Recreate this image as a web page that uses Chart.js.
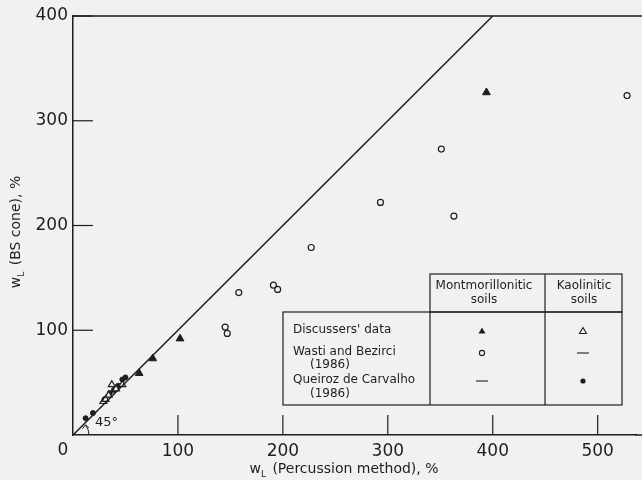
<!DOCTYPE html>
<html>
<head>
<meta charset="utf-8">
<script src="https://cdn.jsdelivr.net/npm/chart.js@4.4.1/dist/chart.umd.min.js"></script>
<style>
  html, body { margin: 0; padding: 0; background: #f1f1ef; }
  #wrap { width: 642px; height: 480px; }
</style>
</head>
<body>
<div id="wrap"><canvas id="chart" width="642" height="480"></canvas></div>
<script>
// w_L percussion (x) vs w_L BS cone (y), %
const montDiscX = [63, 76, 102, 394];
const montDiscY = [59, 73, 92, 327];
const wastiX = [145, 147, 158, 191, 195, 227, 293, 351, 363, 528];
const wastiY = [103, 97, 136, 143, 139, 179, 222, 273, 209, 324];
const kaolDiscX = [29, 31, 34, 37, 41, 47];
const kaolDiscY = [32, 34, 38, 48, 44, 48];
const queirozX = [12, 19, 30, 35, 39, 43, 47, 50];
const queirozY = [16, 21, 34, 40, 43, 47, 53, 55];
const lineX = [0, 400];
const lineY = [0, 400];
const xTicks = [100, 200, 300, 400, 500];
const yTicks = [100, 200, 300, 400];

const ink = '#1e1e1e';
const pts = (xs, ys) => xs.map((x, i) => ({ x, y: ys[i] }));

const font = 'DejaVu Sans';

function drawMarker(ctx, kind, x, y) {
  ctx.save();
  ctx.strokeStyle = ink;
  ctx.fillStyle = ink;
  ctx.lineWidth = 1.1;
  if (kind === 'filledTri' || kind === 'openTri') {
    const r = 3.5;
    ctx.beginPath();
    ctx.moveTo(x, y - r);
    ctx.lineTo(x + r, y + r * 0.7);
    ctx.lineTo(x - r, y + r * 0.7);
    ctx.closePath();
    kind === 'filledTri' ? ctx.fill() : ctx.stroke();
  } else if (kind === 'openCircle') {
    ctx.beginPath();
    ctx.arc(x, y, 2.6, 0, Math.PI * 2);
    ctx.stroke();
  } else if (kind === 'dot') {
    ctx.beginPath();
    ctx.arc(x, y, 2.6, 0, Math.PI * 2);
    ctx.fill();
  } else if (kind === 'dash') {
    ctx.beginPath();
    ctx.moveTo(x - 6, y);
    ctx.lineTo(x + 6, y);
    ctx.stroke();
  }
  ctx.restore();
}

const decor = {
  id: 'decor',
  afterDraw(chart) {
    const { ctx, chartArea: a, scales: { x, y } } = chart;
    ctx.save();
    ctx.strokeStyle = ink;
    ctx.fillStyle = ink;
    ctx.lineWidth = 1.5;
    // top frame, bottom axis run out to the page edge
    ctx.beginPath();
    ctx.moveTo(a.left, a.top);
    ctx.lineTo(642, a.top);
    ctx.moveTo(a.right - 1, a.bottom);
    ctx.lineTo(642, a.bottom);
    ctx.stroke();
    // inward ticks
    ctx.lineWidth = 1.2;
    xTicks.forEach(v => {
      const px = x.getPixelForValue(v);
      ctx.beginPath(); ctx.moveTo(px, a.bottom); ctx.lineTo(px, a.bottom - 20); ctx.stroke();
    });
    yTicks.forEach(v => {
      const py = y.getPixelForValue(v);
      ctx.beginPath(); ctx.moveTo(a.left, py); ctx.lineTo(a.left + 20, py); ctx.stroke();
    });
    // origin label
    ctx.font = '17px ' + font;
    ctx.textAlign = 'center';
    ctx.textBaseline = 'middle';
    ctx.fillText('0', a.left - 10, a.bottom + 16);

    // axis titles with subscript
    const title = (main, rest, cx, cy, rot) => {
      ctx.save();
      ctx.translate(cx, cy);
      ctx.rotate(rot);
      ctx.textBaseline = 'alphabetic';
      ctx.textAlign = 'left';
      ctx.font = '14px ' + font;
      const wW = ctx.measureText(main).width;
      ctx.font = '9px ' + font;
      const lW = ctx.measureText('L').width;
      ctx.font = '14px ' + font;
      const rW = ctx.measureText(rest).width;
      const total = wW + lW + rW + 2;
      let sx = -total / 2;
      ctx.fillText(main, sx, 5);
      ctx.font = '9px ' + font;
      ctx.fillText('L', sx + wW, 9);
      ctx.font = '14px ' + font;
      ctx.fillText(rest, sx + wW + lW + 2, 5);
      ctx.restore();
    };
    title('w', ' (Percussion method), %', 344, 468, 0);
    title('w', ' (BS cone), %', 15, 232, -Math.PI / 2);

    // 45 degree arc with arrow
    const ox = x.getPixelForValue(0), oy = y.getPixelForValue(0);
    const r = 16, end = -Math.PI / 4 + 0.1;
    ctx.lineWidth = 1;
    ctx.beginPath();
    ctx.arc(ox, oy, r, end, 0, false);
    ctx.stroke();
    const ax = ox + r * Math.cos(end);
    const ay = oy + r * Math.sin(end);
    ctx.beginPath();
    ctx.moveTo(ax - 3, ay + 4);
    ctx.lineTo(ax, ay);
    ctx.lineTo(ax + 3.5, ay + 3);
    ctx.stroke();
    ctx.font = '13px ' + font;
    ctx.textAlign = 'left';
    ctx.textBaseline = 'middle';
    ctx.fillText('45°', 95, 423);

    // legend table
    ctx.lineWidth = 1.2;
    ctx.strokeRect(430, 274, 192, 38);
    ctx.strokeRect(283, 312, 339, 93);
    ctx.beginPath();
    ctx.moveTo(545, 274); ctx.lineTo(545, 405);
    ctx.moveTo(430, 312); ctx.lineTo(430, 405);
    ctx.stroke();
    ctx.font = '12px ' + font;
    ctx.textAlign = 'center';
    ctx.textBaseline = 'middle';
    ctx.fillText('Montmorillonitic', 484, 286);
    ctx.fillText('soils', 484, 300);
    ctx.fillText('Kaolinitic', 584, 286);
    ctx.fillText('soils', 584, 300);
    ctx.textAlign = 'left';
    ctx.fillText("Discussers' data", 293, 330);
    ctx.fillText('Wasti and Bezirci', 293, 352);
    ctx.fillText('(1986)', 310, 365);
    ctx.fillText('Queiroz de Carvalho', 293, 380);
    ctx.fillText('(1986)', 310, 394);
    drawMarker(ctx, 'filledTri', 482, 331);
    drawMarker(ctx, 'openTri', 583, 331);
    drawMarker(ctx, 'openCircle', 482, 353);
    drawMarker(ctx, 'dash', 583, 353);
    drawMarker(ctx, 'dash', 482, 381);
    drawMarker(ctx, 'dot', 583, 381);
    ctx.restore();
  }
};

const triStyle = { pointStyle: 'triangle', pointRadius: 4.5, backgroundColor: ink, borderColor: ink, borderWidth: 1 };

new Chart(document.getElementById('chart'), {
  type: 'scatter',
  data: {
    datasets: [
      { label: 'Equality', type: 'line', data: pts(lineX, lineY), borderColor: ink, borderWidth: 1.5, pointRadius: 0, fill: false },
      { label: "Discussers' data (montmorillonitic)", data: pts(montDiscX, montDiscY), ...triStyle },
      { label: 'Wasti and Bezirci (1986)', data: pts(wastiX, wastiY), pointStyle: 'circle', pointRadius: 3, backgroundColor: 'rgba(0,0,0,0)', borderColor: ink, borderWidth: 1.2 },
      { label: "Discussers' data (kaolinitic)", data: pts(kaolDiscX, kaolDiscY), pointStyle: 'triangle', pointRadius: 4, backgroundColor: '#f1f1ef', borderColor: ink, borderWidth: 1.2 },
      { label: 'Queiroz de Carvalho (1986)', data: pts(queirozX, queirozY), pointStyle: 'circle', pointRadius: 2.5, backgroundColor: ink, borderColor: ink, borderWidth: 1 }
    ]
  },
  options: {
    responsive: false,
    devicePixelRatio: 1,
    animation: false,
    layout: { padding: { top: 16, right: 0, left: 0, bottom: 0 } },
    plugins: { legend: { display: false }, tooltip: { enabled: false } },
    scales: {
      x: {
        type: 'linear', min: 0, max: 537,
        ticks: { autoSkip: false, color: ink, font: { family: font, size: 17 }, padding: 6, maxRotation: 0 },
        afterBuildTicks: s => { s.ticks = xTicks.map(v => ({ value: v })); },
        afterFit: s => { s.height = 45; },
        grid: { display: false, drawTicks: false },
        border: { display: true, color: ink, width: 1.5 }
      },
      y: {
        type: 'linear', min: 0, max: 400,
        ticks: { autoSkip: false, color: ink, font: { family: font, size: 17 }, padding: 5 },
        afterBuildTicks: s => { s.ticks = yTicks.map(v => ({ value: v })); },
        afterFit: s => { s.width = 73; },
        grid: { display: false, drawTicks: false },
        border: { display: true, color: ink, width: 1.5 }
      }
    }
  },
  plugins: [decor]
});
</script>
</body>
</html>
